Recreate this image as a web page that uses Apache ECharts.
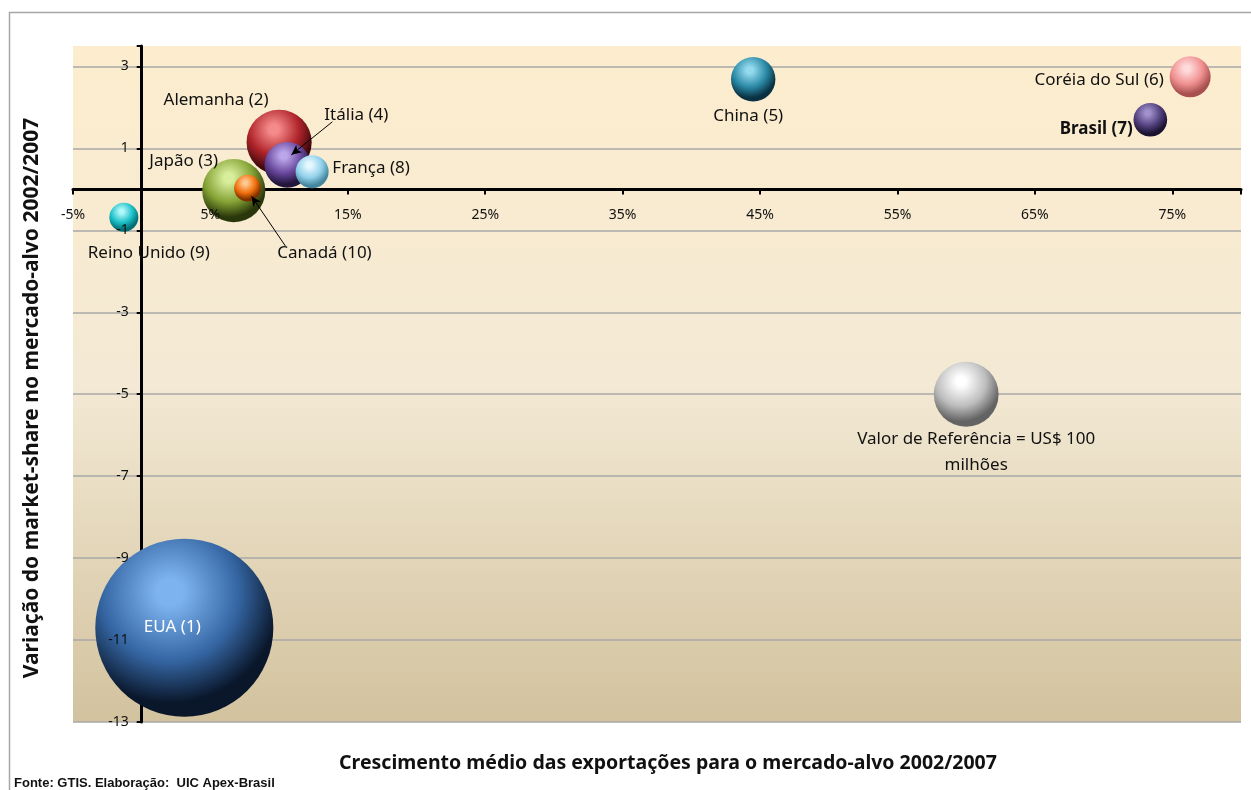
<!DOCTYPE html>
<html><head><meta charset="utf-8">
<script src="https://cdn.jsdelivr.net/npm/echarts@6/dist/echarts.min.js"></script>
<style>html,body{margin:0;padding:0;background:#fff}#c{width:1251px;height:790px}</style>
</head><body><div id="c"></div>
<script>
// ---- data ----
const countries = ['EUA (1)', 'Alemanha (2)', 'Japão (3)', 'Itália (4)', 'China (5)', 'Coréia do Sul (6)', 'Brasil (7)', 'França (8)', 'Reino Unido (9)', 'Canadá (10)', 'Valor de Referência = US$ 100\nmilhões'];
const exportGrowth = [3.1, 10.0, 6.7, 10.6, 44.5, 76.3, 73.4, 12.4, -1.3, 7.7, 60.0];   // %
const shareChange = [-10.7, 1.15, -0.03, 0.6, 2.69, 2.75, 1.70, 0.43, -0.68, 0.03, -5.0];
const exportValue = [755, 101, 95, 50, 47, 40, 27, 26, 20, 17, 100];                     // US$ milhões
const xMin = -5, xMax = 80, xStep = 10;
const yMin = -13, yMax = 3.5, yStep = 2;

// ---- layout & styles ----
const W = 1251, H = 790;
const G = { left: 73, right: 10, top: 46, bottom: 68 };
const gw = W - G.left - G.right, gh = H - G.top - G.bottom;
const xAxisShift = -gh * (0 - yMin) / (yMax - yMin);   // move x axis up to y = 0
const yAxisShift = -gw * (0 - xMin) / (xMax - xMin);   // move y axis right to x = 0

const palette = [
  ['#7DB4F0', '#3566A3', '#0A172B'],
  ['#F58A8A', '#B0252B', '#3E080B'],
  ['#D8EE9C', '#84A234', '#2A370B'],
  ['#BCA6EA', '#68479C', '#23163D'],
  ['#93DAEE', '#2A88A5', '#0A3142'],
  ['#FFDADA', '#F09090', '#A85050'],
  ['#A090CC', '#52417E', '#1A122E'],
  ['#E6F8FE', '#90D0E9', '#44869F'],
  ['#B0F8FA', '#1CC0C8', '#046E74'],
  ['#FFC890', '#F0700C', '#7E2F00'],
  ['#FFFFFF', '#BDBDBD', '#636363']
];
const labelOffsets = [[-12, -1], [-63, -42], [-50, -29], [69, -50], [-5, 37], [-91, 3], [-54, 9], [59, -4], [25, 36], [77, 65], [10, 58]];
const FONT = 'Noto Sans';

function sphere(c) {
  return {
    type: 'radial', x: 0.42, y: 0.3, r: 0.74,
    colorStops: [
      { offset: 0, color: c[0] },
      { offset: 0.1, color: c[0] },
      { offset: 0.52, color: c[1] },
      { offset: 0.84, color: c[2] },
      { offset: 1, color: c[2] }
    ]
  };
}

const data = countries.map((name, i) => ({
  name: name,
  value: [exportGrowth[i], shareChange[i], exportValue[i]],
  itemStyle: { color: sphere(palette[i]), opacity: 1 },
  label: {
    show: true,
    position: 'inside',
    offset: labelOffsets[i],
    formatter: name,
    color: i === 0 ? '#FFFFFF' : '#111111',
    fontFamily: FONT,
    fontSize: 17,
    fontWeight: i === 6 ? 'bold' : 'normal',
    lineHeight: 26,
    align: 'center',
    verticalAlign: 'middle'
  }
}));

const xBase = { type: 'value', min: xMin, max: xMax, interval: xStep, position: 'bottom', offset: xAxisShift };
const yBase = { type: 'value', min: yMin, max: yMax, interval: yStep, position: 'left', offset: yAxisShift };
const tickFont = { color: '#111', fontFamily: FONT, fontSize: 14 };

const chart = echarts.init(document.getElementById('c'));
const option = {
  animation: false,
  backgroundColor: '#FFFFFF',
  grid: {
    left: G.left, right: G.right, top: G.top, bottom: G.bottom,
    show: true, borderWidth: 0,
    backgroundColor: {
      type: 'linear', x: 0, y: 0, x2: 0, y2: 1,
      colorStops: [
        { offset: 0, color: '#FDEDCE' },
        { offset: 0.5, color: '#F3E9D4' },
        { offset: 1, color: '#D2C29E' }
      ]
    }
  },
  xAxis: [
    Object.assign({}, xBase, {
      z: 0,
      axisLine: { onZero: false, lineStyle: { color: '#000', width: 3 } },
      axisTick: { show: true, length: 5, lineStyle: { color: '#000', width: 2 } },
      axisLabel: { show: false },
      splitLine: { show: false }
    }),
    Object.assign({}, xBase, {
      z: 5,
      axisLine: { show: false }, axisTick: { show: false }, splitLine: { show: false },
      axisLabel: Object.assign({ margin: 19, formatter: v => (v >= xMax ? '' : v + '%') }, tickFont)
    })
  ],
  yAxis: [
    Object.assign({}, yBase, {
      z: 0,
      axisLine: { onZero: false, lineStyle: { color: '#000', width: 3 } },
      axisTick: { show: true, length: 5, lineStyle: { color: '#000', width: 2 } },
      axisLabel: { show: false },
      splitLine: { show: true, showMaxLine: false, lineStyle: { color: '#A8A8A8', width: 1.5 } }
    }),
    Object.assign({}, yBase, {
      z: 5,
      axisLine: { show: false }, axisTick: { show: false }, splitLine: { show: false },
      axisLabel: Object.assign({ margin: 13, formatter: v => (v > 3 ? '' : String(v)) }, tickFont)
    })
  ],
  graphic: [
    { type: 'rect', shape: { x: 9.5, y: 12.5, width: 1400, height: 900 }, style: { fill: 'none', stroke: '#A6A6A6', lineWidth: 1.5 }, silent: true },
    { type: 'text', x: 668, y: 763, style: { text: 'Crescimento médio das exportações para o mercado-alvo 2002/2007', font: 'bold 19.5px "Noto Sans"', fill: '#111', align: 'center', verticalAlign: 'middle' } },
    { type: 'text', x: 32, y: 398, rotation: Math.PI / 2, style: { text: 'Variação do market-share no mercado-alvo 2002/2007', font: 'bold 21px "Noto Sans"', fill: '#111', align: 'center', verticalAlign: 'middle' } },
    { type: 'text', x: 14, y: 783, style: { text: 'Fonte: GTIS. Elaboração:  UIC Apex-Brasil', font: 'bold 13px "Liberation Sans"', fill: '#111', align: 'left', verticalAlign: 'middle' } }
  ],
  series: [{
    id: 'b',
    type: 'scatter',
    xAxisIndex: 0, yAxisIndex: 0,
    data: data,
    symbol: 'circle',
    symbolSize: v => 6.48 * Math.sqrt(v[2]),
    itemStyle: { opacity: 1 },
    emphasis: { disabled: true }
  }]
};
chart.setOption(option);

// arrows from labels to bubbles (Itália, Canadá), placed relative to each bubble's own position
const arrowSpec = [[3, [45, -43], [4, -10]], [9, [38, 58], [4, 8]]];
const arrowLines = arrowSpec.map(([i, s, e]) => {
  const p = chart.convertToPixel({ seriesIndex: 0 }, [exportGrowth[i], shareChange[i]]);
  return [{ x: p[0] + s[0], y: p[1] + s[1] }, { x: p[0] + e[0], y: p[1] + e[1] }];
});
chart.setOption({
  series: [{
    id: 'b',
    markLine: {
      silent: true, animation: false,
      symbol: ['none', 'arrow'], symbolSize: [7, 10],
      lineStyle: { color: '#000', width: 1, type: 'solid', opacity: 1 },
      label: { show: false },
      emphasis: { disabled: true },
      data: arrowLines
    }
  }]
});
</script></body></html>
